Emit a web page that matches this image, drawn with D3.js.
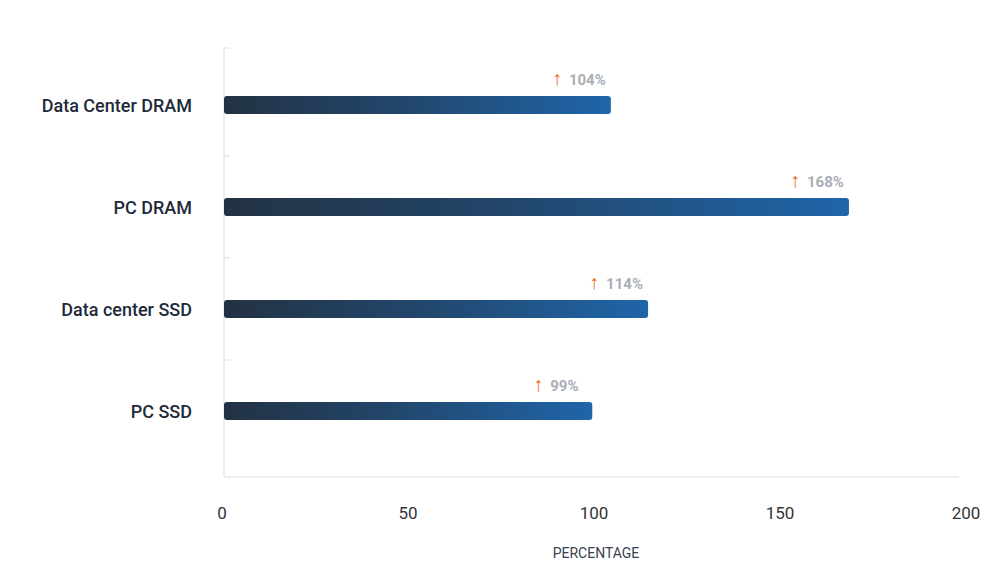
<!DOCTYPE html>
<html><head><meta charset="utf-8">
<script src="https://cdn.jsdelivr.net/npm/d3@7"></script>
<style>body{margin:0;background:#fff}text{font-family:Roboto,sans-serif}</style>
</head><body><svg id="c" width="1000" height="574"></svg>
<script>
const categories=["Data Center DRAM","PC DRAM","Data center SSD","PC SSD"];
const values=[104,168,114,99];
const labels=["104%","168%","114%","99%"];
const xTicks=[0,50,100,150,200];

const svg=d3.select("#c");
const x=d3.scaleLinear().domain([0,200]).range([224,968]);
const y=d3.scaleBand().domain(categories).range([54,462]).padding(0);
const defs=svg.append("defs");
const g=defs.append("linearGradient").attr("id","gr").attr("x1","0").attr("x2","1");
g.append("stop").attr("offset","0").attr("stop-color","#233243");
g.append("stop").attr("offset","0.45").attr("stop-color","#22466b");
g.append("stop").attr("offset","1").attr("stop-color","#1f65a9");

// axes lines
svg.append("line").attr("x1",224).attr("x2",224).attr("y1",48).attr("y2",477).attr("stroke","#d8dbe3");
svg.append("line").attr("x1",224).attr("x2",959).attr("y1",477).attr("y2",477).attr("stroke","#d8dbe3");
[48,156,258,360].forEach(v=>svg.append("line").attr("x1",224).attr("x2",230).attr("y1",v).attr("y2",v).attr("stroke","#d8dbe3"));

const c=i=>y(categories[i])+y.bandwidth()/2;
svg.selectAll("rect.b").data(values).join("rect").attr("class","b")
 .attr("x",x(0)).attr("y",(d,i)=>c(i)-9).attr("height",18)
 .attr("width",d=>x(d)-x(0)).attr("rx",3).attr("fill","url(#gr)");
svg.selectAll("text.cat").data(categories).join("text").attr("class","cat")
 .attr("x",192).attr("y",(d,i)=>c(i)+7).attr("text-anchor","end")
 .attr("font-size",18).attr("font-weight",500).attr("fill","#1e2a3a").text(d=>d);
svg.selectAll("text.ar").data(values).join("text").attr("class","ar")
 .attr("x",d=>x(d)-54).attr("y",(d,i)=>c(i)-20).attr("text-anchor","middle")
 .attr("font-size",20).attr("fill","#f26b1d").text("↑");
svg.selectAll("text.lb").data(values).join("text").attr("class","lb")
 .attr("x",d=>x(d)-42).attr("y",(d,i)=>c(i)-20)
 .attr("font-size",15).attr("font-weight",700).attr("fill","#a9aeb8").text((d,i)=>labels[i]);
svg.selectAll("text.tk").data(xTicks).join("text").attr("class","tk")
 .attr("x",d=>x(d)-2).attr("y",519).attr("text-anchor","middle")
 .attr("font-size",17).attr("fill","#333").text(d=>d);
svg.append("text").attr("x",596).attr("y",558).attr("text-anchor","middle")
 .attr("font-size",14).attr("fill","#3a4150").text("PERCENTAGE");
</script></body></html>
